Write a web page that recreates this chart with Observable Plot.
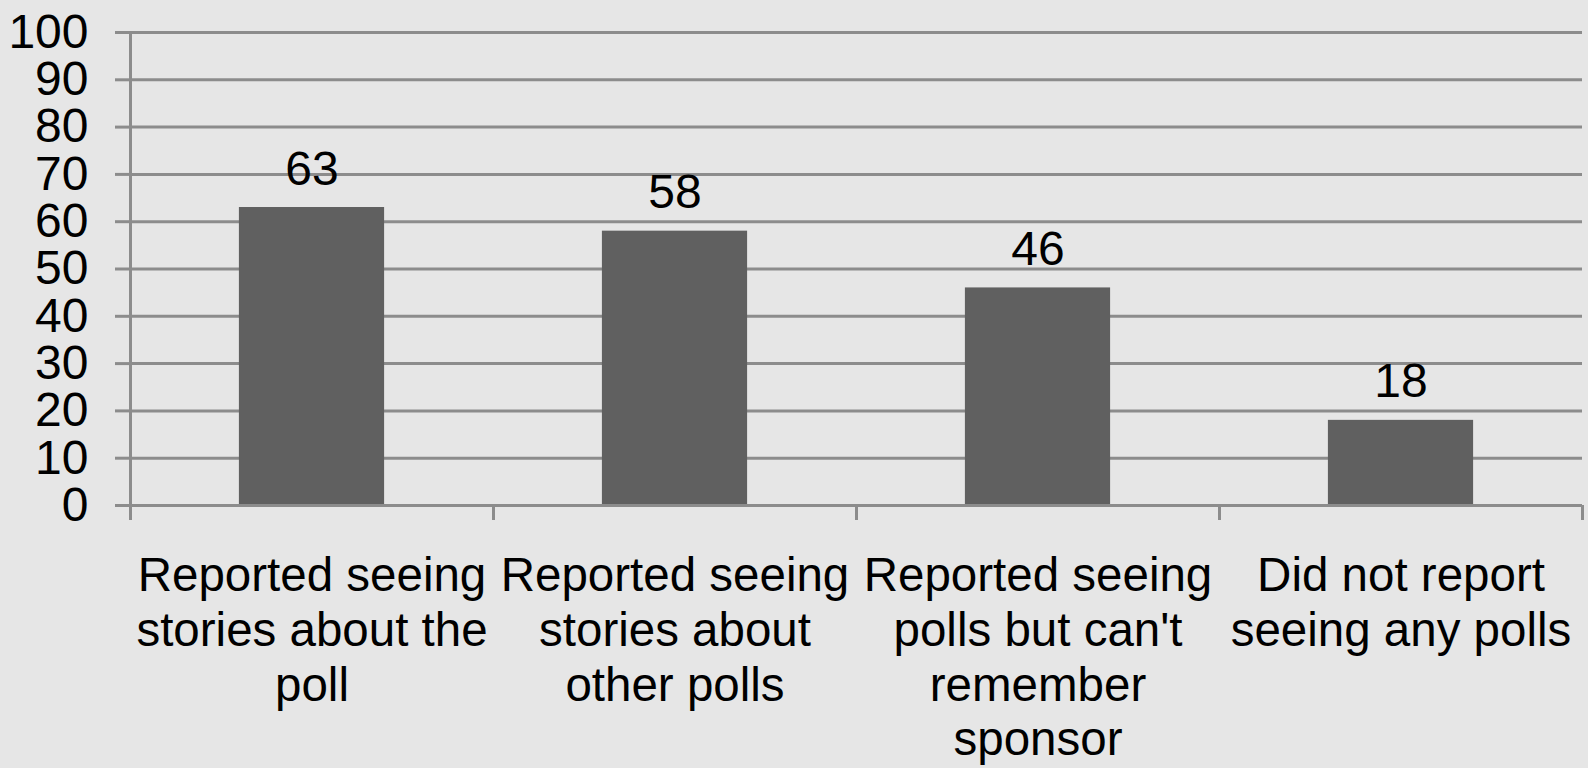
<!DOCTYPE html>
<html><head><meta charset="utf-8">
<script src="https://cdn.jsdelivr.net/npm/d3@7"></script>
<script src="https://cdn.jsdelivr.net/npm/@observablehq/plot@0.6"></script>
<style>
html,body{margin:0;padding:0;background:#e6e6e6;overflow:hidden;}
</style></head><body><div id="chart"></div>
<script>
const categories = [
  "Reported seeing stories about the poll",
  "Reported seeing stories about other polls",
  "Reported seeing polls but can't remember sponsor",
  "Did not report seeing any polls"
];
const categoryLabels = [
  "Reported seeing\nstories about the\npoll",
  "Reported seeing\nstories about\nother polls",
  "Reported seeing\npolls but can't\nremember\nsponsor",
  "Did not report\nseeing any polls"
];
const values = [63, 58, 46, 18];
const yTicks = [0, 10, 20, 30, 40, 50, 60, 70, 80, 90, 100];

const data = categories.map((c, i) => ({category: c, label: categoryLabels[i], value: values[i], index: i}));
const boundaries = d3.range(0, categories.length + 1);
const centers = data.map(d => d.index + 0.5);
const pad = 0.3;
const gridColor = "#8c8c8c";

const chart = Plot.plot({
  width: 1588,
  height: 768,
  marginLeft: 130,
  marginRight: 6,
  marginTop: 32,
  marginBottom: 263,
  style: {background: "#e6e6e6", fontFamily: "'Liberation Sans', Arial, sans-serif", color: "#000", overflow: "visible"},
  x: {domain: [0, categories.length]},
  y: {domain: [0, 100]},
  marks: [
    Plot.gridY(yTicks, {stroke: gridColor, strokeOpacity: 1, strokeWidth: 3}),
    Plot.axisY(yTicks, {tickSize: 15, tickPadding: 27, stroke: gridColor, strokeWidth: 3, fill: "#000", fontSize: 48, label: null}),
    Plot.rectY(data, {x1: d => d.index + pad, x2: d => d.index + 1 - pad, y: "value", fill: "#606060"}),
    Plot.ruleY([0], {stroke: gridColor, strokeWidth: 3}),
    Plot.ruleX([0], {stroke: gridColor, strokeWidth: 3}),
    Plot.axisX(boundaries, {tickSize: 15, tickFormat: () => "", stroke: gridColor, strokeWidth: 3, label: null}),
    Plot.axisX(centers, {tickSize: 0, tickPadding: 47, tickFormat: v => categoryLabels[Math.floor(v)], fill: "#000", fontSize: 47.5, lineHeight: 1.15, label: null}),
    Plot.text(data, {x: d => d.index + 0.5, y: "value", text: d => String(d.value), lineAnchor: "bottom", dy: -23, fontSize: 48, fill: "#000"})
  ]
});
document.getElementById("chart").append(chart);
</script>
</body></html>
